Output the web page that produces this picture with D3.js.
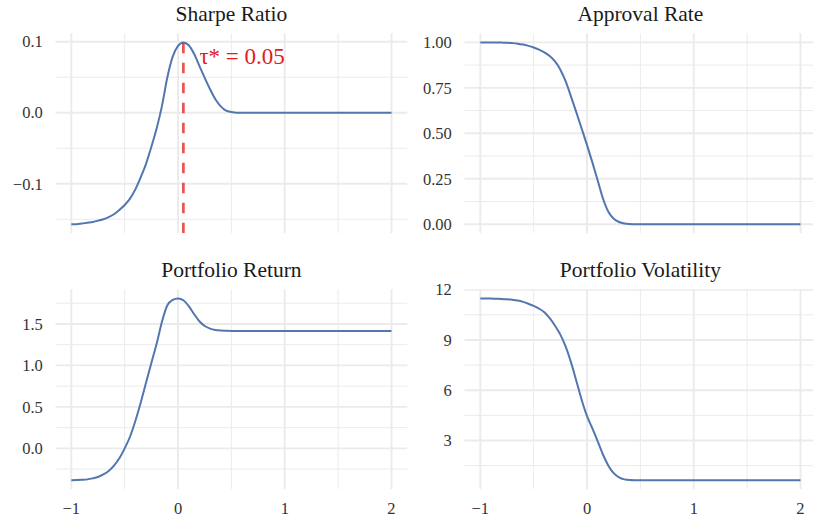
<!DOCTYPE html>
<html>
<head>
<meta charset="utf-8">
<script src="https://cdn.jsdelivr.net/npm/d3@7"></script>
<style>
  html, body { margin: 0; padding: 0; background: #fff; }
  svg { display: block; }
  text { font-family: "Liberation Serif", "DejaVu Serif", serif; }
</style>
</head>
<body>
<div id="chart"></div>
<script>
// Threshold grid (tau) shared by all four panels
const tau = [-1, -0.95, -0.9, -0.85, -0.8, -0.75, -0.7, -0.65, -0.6, -0.55,
             -0.5, -0.45, -0.4, -0.35, -0.3, -0.25, -0.2, -0.15, -0.1, -0.05,
             0, 0.05, 0.1, 0.15, 0.2, 0.25, 0.3, 0.35, 0.4, 0.45,
             0.5, 0.55, 0.6, 1, 1.5, 2];

const sharpeRatio = [-0.157, -0.157, -0.156, -0.155, -0.154, -0.152, -0.150, -0.147, -0.143, -0.137,
                     -0.130, -0.121, -0.108, -0.091, -0.072, -0.048, -0.022, 0.010, 0.050, 0.079,
                     0.094, 0.099, 0.095, 0.083, 0.066, 0.049, 0.033, 0.019, 0.009, 0.003,
                     0.001, 0.000, 0.000, 0.000, 0.000, 0.000];

const approvalRate = [1.000, 1.000, 1.000, 1.000, 0.999, 0.998, 0.996, 0.993, 0.988, 0.981,
                      0.972, 0.960, 0.945, 0.925, 0.895, 0.850, 0.785, 0.702, 0.615, 0.525,
                      0.435, 0.340, 0.240, 0.140, 0.068, 0.030, 0.012, 0.004, 0.001, 0.000,
                      0.000, 0.000, 0.000, 0.000, 0.000, 0.000];

const portfolioReturn = [-0.384, -0.382, -0.379, -0.374, -0.362, -0.345, -0.315, -0.272, -0.208, -0.120,
                         0.000, 0.140, 0.330, 0.550, 0.790, 1.030, 1.264, 1.530, 1.725, 1.790,
                         1.808, 1.785, 1.715, 1.620, 1.532, 1.475, 1.444, 1.428, 1.420, 1.417,
                         1.415, 1.415, 1.415, 1.415, 1.415, 1.415];

const portfolioVolatility = [11.48, 11.48, 11.47, 11.46, 11.45, 11.43, 11.40, 11.35, 11.27, 11.16,
                             11.03, 10.87, 10.65, 10.30, 9.85, 9.32, 8.60, 7.66, 6.55, 5.42,
                             4.45, 3.72, 2.95, 2.15, 1.50, 1.05, 0.80, 0.68, 0.64, 0.63,
                             0.63, 0.63, 0.63, 0.63, 0.63, 0.63];

const panelTitles = ["Sharpe Ratio", "Approval Rate", "Portfolio Return", "Portfolio Volatility"];

// Axis breaks and their labels
const xBreaks = [-1, 0, 1, 2];
const xLabels = ["\u22121", "0", "1", "2"];
const xMinor = [-0.5, 0.5, 1.5];

const srBreaks = [-0.1, 0, 0.1];
const srLabels = ["\u22120.1", "0.0", "0.1"];
const arBreaks = [0, 0.25, 0.5, 0.75, 1];
const arLabels = ["0.00", "0.25", "0.50", "0.75", "1.00"];
const prBreaks = [0, 0.5, 1, 1.5];
const prLabels = ["0.0", "0.5", "1.0", "1.5"];
const pvBreaks = [3, 6, 9, 12];
const pvLabels = ["3", "6", "9", "12"];

// Optimal threshold marker
const tauStar = [0.05];
const tauStarLabel = ["\u03C4* = 0.05"];

// ---- layout ----
const W = 813, H = 522;
const cols = [[55.3, 407.5], [464.3, 816.5]];
const rows = [[33.3, 233.3], [289.3, 489.3]];
const lineColor = "#5177AE";
const gridColor = "#EBEBEB";
const red = "#E41A1C";

const svg = d3.select("#chart").append("svg")
  .attr("width", W).attr("height", H)
  .attr("viewBox", `0 0 ${W} ${H}`);

const panels = [
  { title: panelTitles[0], values: sharpeRatio, breaks: srBreaks, labels: srLabels, col: 0, row: 0, marker: true },
  { title: panelTitles[1], values: approvalRate, breaks: arBreaks, labels: arLabels, col: 1, row: 0 },
  { title: panelTitles[2], values: portfolioReturn, breaks: prBreaks, labels: prLabels, col: 0, row: 1 },
  { title: panelTitles[3], values: portfolioVolatility, breaks: pvBreaks, labels: pvLabels, col: 1, row: 1 }
];

// ggplot-style 5% range expansion
function expand(ext) {
  const d = (ext[1] - ext[0]) * 0.05;
  return [ext[0] - d, ext[1] + d];
}

const xDomain = expand(d3.extent(tau));

panels.forEach((p, i) => {
  const [x0, x1] = cols[p.col];
  const [y0, y1] = rows[p.row];
  const x = d3.scaleLinear().domain(xDomain).range([x0, x1]);
  const yDom = expand(d3.extent(p.values));
  const y = d3.scaleLinear().domain(yDom).range([y1, y0]);

  const g = svg.append("g");
  const clipId = "clip" + i;
  g.append("clipPath").attr("id", clipId)
    .append("rect").attr("x", x0).attr("y", y0).attr("width", x1 - x0).attr("height", y1 - y0);

  // minor y breaks: midpoints between majors, plus one step beyond each end
  const step = p.breaks[1] - p.breaks[0];
  const yMinor = [];
  for (let k = -1; k < p.breaks.length; k++) {
    const v = p.breaks[0] + (k + 0.5) * step;
    if (v >= yDom[0] && v <= yDom[1]) yMinor.push(v);
  }

  const grid = g.append("g").attr("clip-path", `url(#${clipId})`);
  grid.selectAll("line.ymin").data(yMinor).join("line")
    .attr("x1", x0).attr("x2", x1)
    .attr("y1", d => y(d)).attr("y2", d => y(d))
    .attr("stroke", gridColor).attr("stroke-width", 1);
  grid.selectAll("line.xmin").data(xMinor).join("line")
    .attr("y1", y0).attr("y2", y1)
    .attr("x1", d => x(d)).attr("x2", d => x(d))
    .attr("stroke", gridColor).attr("stroke-width", 1);
  grid.selectAll("line.ymaj").data(p.breaks).join("line")
    .attr("x1", x0).attr("x2", x1)
    .attr("y1", d => y(d)).attr("y2", d => y(d))
    .attr("stroke", gridColor).attr("stroke-width", 1.9);
  grid.selectAll("line.xmaj").data(xBreaks).join("line")
    .attr("y1", y0).attr("y2", y1)
    .attr("x1", d => x(d)).attr("x2", d => x(d))
    .attr("stroke", gridColor).attr("stroke-width", 1.9);

  // y tick labels
  g.selectAll("text.ytick").data(p.breaks).join("text")
    .attr("x", x0 - 12.5)
    .attr("y", d => y(d))
    .attr("dy", "0.35em")
    .attr("text-anchor", "end")
    .attr("font-size", 16.5)
    .attr("fill", "#333333")
    .text((d, j) => p.labels[j]);

  // x tick labels on the bottom row only
  if (p.row === 1) {
    g.selectAll("text.xtick").data(xBreaks).join("text")
      .attr("x", d => x(d))
      .attr("y", y1 + 24.5)
      .attr("text-anchor", "middle")
      .attr("font-size", 16.5)
      .attr("fill", "#333333")
      .text((d, j) => xLabels[j]);
  }

  // panel title
  g.append("text")
    .attr("x", (x0 + x1) / 2)
    .attr("y", y0 - 12.8)
    .attr("text-anchor", "middle")
    .attr("font-size", 21.5)
    .attr("fill", "#1a1a1a")
    .text(p.title);

  // series line
  const line = d3.line()
    .x((d, j) => x(tau[j]))
    .y(d => y(d))
    .curve(d3.curveMonotoneX);
  g.append("path")
    .datum(p.values)
    .attr("clip-path", `url(#${clipId})`)
    .attr("d", line)
    .attr("fill", "none")
    .attr("stroke", lineColor)
    .attr("stroke-width", 2)
    .attr("stroke-linejoin", "round");

  if (p.marker) {
    g.selectAll("line.vline").data(tauStar).join("line")
      .attr("clip-path", `url(#${clipId})`)
      .attr("x1", d => x(d)).attr("x2", d => x(d))
      .attr("y1", y1).attr("y2", y0)
      .attr("stroke", red).attr("stroke-opacity", 0.75)
      .attr("stroke-width", 2.7)
      .attr("stroke-dasharray", "10.5 9.5");
    g.selectAll("text.vlab").data(tauStar).join("text")
      .attr("x", d => x(d + 0.15))
      .attr("y", y(0.08))
      .attr("dy", "0.35em")
      .attr("text-anchor", "start")
      .attr("font-size", 23)
      .attr("fill", red)
      .text(tauStarLabel[0]);
  }
});
</script>
</body>
</html>
